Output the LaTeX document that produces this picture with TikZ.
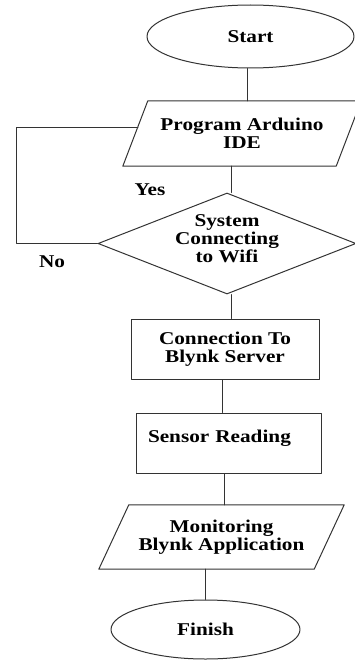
\documentclass[tikz,border=0pt]{standalone}
\usepackage{fontspec}
\setmainfont{Liberation Serif}[FakeStretch=1.18]
\usetikzlibrary{shapes.geometric}

\begin{document}
\begin{tikzpicture}
% Flowchart of the Blynk wifi monitor
\def\unitsz{1pt}
\providecommand{\flowLineColor}{black!80}
\providecommand{\flowLineWidth}{1pt}
\tikzset{
  flowtext/.style={font=\fontsize{18}{18}\selectfont\bfseries, align=center, inner sep=0pt},
  termnode/.style={flowtext, ellipse, draw=\flowLineColor, line width=\flowLineWidth},
  ionode/.style={flowtext, rectangle},
  procnode/.style={flowtext, rectangle, draw=\flowLineColor, line width=\flowLineWidth},
  decnode/.style={flowtext, diamond, shape aspect=2.5, draw=\flowLineColor, line width=\flowLineWidth},
  flowline/.style={draw=\flowLineColor, line width=\flowLineWidth},
}
\begin{scope}[x=\unitsz, y=-\unitsz, line cap=round, line join=round]
  % Page frame
  \useasboundingbox (0,0) rectangle (355,661);
  % Terminals
  \node[termnode, minimum width=207pt, minimum height=63pt] (start) at (250.5,36.5) {Start};
  \node[termnode, minimum width=189pt, minimum height=59pt] (finish) at (205.5,629.5) {Finish};
  % Input and output (outline drawn as a slanted frame round the text box)
  \node[ionode, minimum width=213pt, minimum height=65pt] (prog) at (242,133.5) {Program Arduino\\IDE};
  \node[ionode, minimum width=215pt, minimum height=64pt] (monitor) at (221.5,537) {Monitoring\\Blynk Application};
  \draw[flowline] ([xshift=12.5pt]prog.north west) -- ([xshift=12.5pt]prog.north east)
    -- ([xshift=-12.5pt]prog.south east) -- ([xshift=-12.5pt]prog.south west) -- cycle;
  \draw[flowline] ([xshift=15pt]monitor.north west) -- ([xshift=15pt]monitor.north east)
    -- ([xshift=-15pt]monitor.south east) -- ([xshift=-15pt]monitor.south west) -- cycle;
  % Decision (text set a little above the centre)
  \node[decnode, minimum width=258pt, minimum height=101pt] (wifi) at (227,243.5) {};
  \node[flowtext] (wifitext) at (227,238.5) {System\\Connecting\\to Wifi};
  % Processes
  \node[procnode, minimum width=188pt, minimum height=60pt] (server) at (225,349) {Connection To\\Blynk Server};
  \node[procnode, minimum width=185pt, minimum height=60pt, text width=161pt, align=left,
        text depth=14pt] (sensor) at (228.5,443) {Sensor Reading};
  % Branch labels
  \node[flowtext] (yeslbl) at (150,190) {Yes};
  \node[flowtext] (nolbl) at (52,262) {No};
  % Connectors
  \begin{scope}[flowline]
    \draw ([xshift=-3pt]start.south) -- ([xshift=-3pt]start.south |- prog.north);
    \draw ([xshift=4pt]wifi.north) -- ([xshift=4pt]wifi.north |- prog.south);
    \draw ([xshift=4pt]wifi.south) -- ([xshift=4pt]wifi.south |- server.north);
    \draw ([xshift=-3pt]server.south) -- ([xshift=-3pt]server.south |- sensor.north);
    \draw ([xshift=-4pt]sensor.south) -- ([xshift=-4pt]sensor.south |- monitor.north);
    \draw (finish.north) -- (finish.north |- monitor.south);
  \end{scope}
  % Retry loop
  \coordinate (nobend) at (16,0);
  \draw[flowline] (wifi.west) -| ([yshift=6.5pt]nobend |- prog.west) -- ([xshift=2.5pt,yshift=6.5pt]prog.west);
\end{scope}
\end{tikzpicture}
\end{document}
